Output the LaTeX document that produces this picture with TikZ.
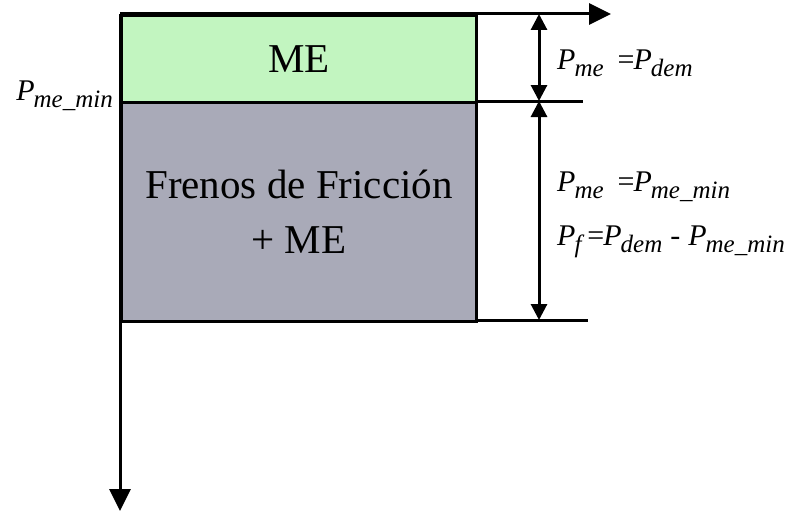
\documentclass[tikz,border=0pt]{standalone}
\usepackage{fontspec}
\setmainfont{Liberation Serif}
\usetikzlibrary{arrows.meta}
\definecolor{megreen}{RGB}{194,245,192}
\definecolor{frgray}{RGB}{169,170,184}
\newcommand{\Psb}[1]{\textit{P}\kern-1pt\raisebox{-7pt}{\fontsize{25}{25}\selectfont\itshape #1}}
\begin{document}
\begin{tikzpicture}[x=1pt,y=-1pt,
  box/.style={draw=black,line width=3pt,inner sep=0pt,anchor=north west,
    font=\fontsize{41}{55}\selectfont,align=center},
  lbl/.style={anchor=base west,inner sep=0pt,font=\fontsize{30}{30}\selectfont},
  ln/.style={line width=3pt},
  dim/.style={line width=3pt,{Triangle[length=16pt,width=16pt]}-{Triangle[length=16pt,width=16pt]}}]
\useasboundingbox (0,0) rectangle (786,511);
\coordinate (ytop) at (120,14);
\coordinate (c1) at (475,101);
\coordinate (c2) at (475,320);
\node[box,fill=megreen,minimum width=355pt,minimum height=87pt] (me) at (ytop) {ME};
\node[box,fill=frgray,minimum width=355pt,minimum height=219pt] (fr) at (120,101) {Frenos de Fricción\\+ ME};
\coordinate (xend) at (611,14);
\coordinate (yend) at (120,511);
\coordinate (l1) at (583,101);
\coordinate (l2) at (588,320);
\coordinate (d0) at (539,14);
\coordinate (d1) at (539,101);
\coordinate (d2) at (539,320);
\draw[ln,-{Triangle[length=22pt,width=21pt]}] (ytop) -- (xend);
\draw[ln,-{Triangle[length=22pt,width=21pt]}] (ytop) -- (yend);
\draw[ln] (c1) -- (l1);
\draw[ln] (c2) -- (l2);
\draw[dim] (d0) -- (d1);
\draw[dim] (d1) -- (d2);
\node[lbl,anchor=base east] (pmin) at (113,100) {\Psb{me\_min}};
\node[lbl] (t1) at (557,69) {\Psb{me}\hspace{14pt}=\kern-1pt\Psb{dem}};
\node[lbl] (t2) at (557,191) {\Psb{me}\hspace{14pt}=\kern-1pt\Psb{me\_min}};
\node[lbl] (t3) at (557,245) {\Psb{f}\hspace{6pt}=\kern-1pt\Psb{dem}\hspace{8pt}-\hspace{8pt}\Psb{me\_min}};
\end{tikzpicture}
\end{document}
